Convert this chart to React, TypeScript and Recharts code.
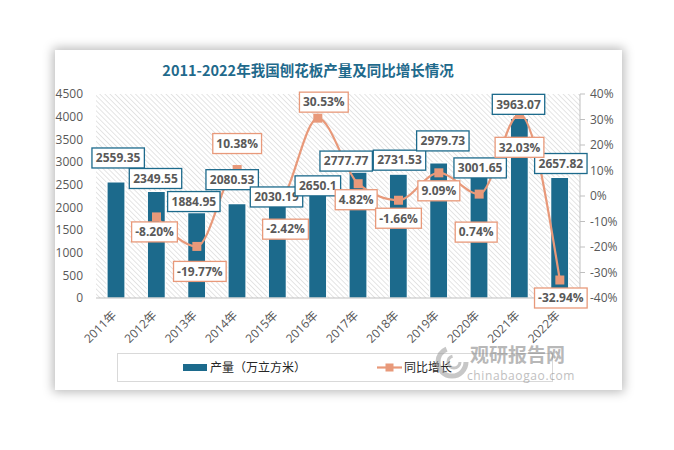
import React from 'react';
import { ComposedChart, Bar, Line, XAxis, YAxis, CartesianGrid, LabelList } from 'recharts';

const categories = ['2011年', '2012年', '2013年', '2014年', '2015年', '2016年', '2017年', '2018年', '2019年', '2020年', '2021年', '2022年'];
const output = [2559.35, 2349.55, 1884.95, 2080.53, 2030.19, 2650.1, 2777.77, 2731.53, 2979.73, 3001.65, 3963.07, 2657.82];
const growth: (number | null)[] = [null, -8.2, -19.77, 10.38, -2.42, 30.53, 4.82, -1.66, 9.09, 0.74, 32.03, -32.94];
const leftTicks = [0, 500, 1000, 1500, 2000, 2500, 3000, 3500, 4000, 4500];
const rightTicks = [-40, -30, -20, -10, 0, 10, 20, 30, 40];

// label nudges (dx, dy) relative to the mark they describe
const barLabelNudge = [[2, -24], [-1, -13], [-3, -11], [-5, -24], [-1, -9], [0, 8], [-12, -11], [1, -14], [4, -22], [1, 6], [-1, -14], [1, -14]];
const lineLabelNudge = [[0, 0], [-2, 15], [3, 25], [0, -26], [8, 27], [6, -16], [-2, 16], [0, 18], [0, 18], [-3, 38], [0, 33], [1, 18]];

const data = categories.map((c, i) => ({ name: c, output: output[i], growth: growth[i] }));

const BLUE = '#1C6A8C';
const ORANGE = '#E8997A';
const TXT = '#595959';
const FONT = '"Open Sans", "Noto Sans CJK SC", sans-serif';

function textW(s: string, fs: number) {
  let w = 0;
  for (const c of s) {
    if (c >= '0' && c <= '9') w += 0.572;
    else if (c === '.') w += 0.27;
    else if (c === '%') w += 0.84;
    else if (c === '-') w += 0.32;
    else w += 0.6;
  }
  return w * fs;
}

function makeLabel(kind: 'bar' | 'line') {
  return (props: any) => {
    const vb = props.viewBox || {};
    const x = props.x ?? vb.x;
    const y = props.y ?? vb.y;
    const idx = props.index;
    const v = props.value;
    if (v === null || v === undefined || x === undefined || y === undefined) return null;
    const s = kind === 'bar' ? String(v) : `${Number(v).toFixed(2)}%`;
    const nudge = (kind === 'bar' ? barLabelNudge : lineLabelNudge)[idx] || [0, 0];
    const cx = x + nudge[0];
    const cy = y + nudge[1];
    const w = textW(s, 12) + 8;
    const h = 20;
    return (
      <g>
        <rect x={cx - w / 2} y={cy - h / 2} width={w} height={h} fill="#fff" stroke={kind === 'bar' ? BLUE : ORANGE} strokeWidth={1.3} />
        <text x={cx} y={cy + 4.3} textAnchor="middle" fontSize={12} fontWeight="bold" fill={TXT} fontFamily={FONT}>{s}</text>
      </g>
    );
  };
}

const SquareDot = (props: any) => {
  const { cx, cy, value } = props;
  if (value === null || value === undefined || cx === undefined || cy === undefined) return <g />;
  return <rect x={cx - 4.5} y={cy - 4.5} width={9} height={9} fill={ORANGE} />;
};

const XTick = (props: any) => {
  const { x, y, payload } = props;
  return (
    <g transform={`translate(${x - 2},${y + 7}) rotate(-45)`}>
      <text x={0} y={0} dy="0.35em" textAnchor="end" fontSize={12} fill={TXT} fontFamily={FONT}>{payload.value}</text>
    </g>
  );
};

export default function App() {
  return (
    <div style={{ position: 'absolute', left: 0, top: 0, width: 674, height: 450, background: '#fff', overflow: 'hidden' }}>
      <svg width={0} height={0} style={{ position: 'absolute' }}>
        <defs>
          <pattern id="hatch" patternUnits="userSpaceOnUse" width={3.6} height={3.6} patternTransform="rotate(-45)">
            <line x1={0} y1={0} x2={0} y2={3.6} stroke="#CFCFCF" strokeWidth={1.1} />
          </pattern>
        </defs>
      </svg>
      <div style={{ position: 'absolute', left: 55, top: 50, width: 567, height: 340, background: '#fff', boxShadow: '0 0 10px 2px rgba(0,0,0,0.28)' }} />
      <div style={{ position: 'absolute', left: 0, top: 0 }}>
        <ComposedChart width={674} height={450} data={data} margin={{ top: 94, right: 44, bottom: 102, left: 56 }}>
          <CartesianGrid horizontal={false} vertical={false} fill="url(#hatch)" stroke="none" />
          <XAxis dataKey="name" xAxisId={0} tick={<XTick />} tickLine={false} axisLine={{ stroke: '#BFBFBF' }} height={50} interval={0} />
          <YAxis yAxisId="left" orientation="left" domain={[0, 4500]} ticks={leftTicks} width={40} axisLine={false} tickLine={false} tickMargin={7} tick={{ fontSize: 12, fill: TXT, fontFamily: FONT }} interval={0} />
          <YAxis yAxisId="right" orientation="right" domain={[-40, 40]} ticks={rightTicks} width={50} axisLine={{ stroke: '#BFBFBF' }} tickLine={{ stroke: '#BFBFBF' }} tickSize={5} tickMargin={5} tickFormatter={(v: number) => `${v}%`} tick={{ fontSize: 12, fill: TXT, fontFamily: FONT, textAnchor: 'start' }} interval={0} />
          <Bar yAxisId="left" dataKey="output" fill={BLUE} barSize={18} stroke="#fff" strokeWidth={1.2} isAnimationActive={false} />
          <Line yAxisId="right" dataKey="growth" type="monotone" stroke={ORANGE} strokeWidth={2.2} dot={<SquareDot />} activeDot={false} connectNulls={false} isAnimationActive={false} />
          <Line yAxisId="left" dataKey="output" stroke="none" dot={false} activeDot={false} isAnimationActive={false}>
            <LabelList dataKey="output" content={makeLabel('bar')} />
          </Line>
          <Line yAxisId="right" dataKey="growth" stroke="none" dot={false} activeDot={false} isAnimationActive={false}>
            <LabelList dataKey="growth" content={makeLabel('line')} />
          </Line>
        </ComposedChart>
      </div>
      <svg width={674} height={450} style={{ position: 'absolute', left: 0, top: 0, pointerEvents: 'none' }}>
        <text x={308} y={76} textAnchor="middle" fontSize={14.5} fontWeight="bold" fill="#1F6A8C" fontFamily='"Noto Sans CJK SC", sans-serif'>2011-2022年我国刨花板产量及同比增长情况</text>
        <rect x={117.5} y={353.5} width={435} height={28} fill="#fff" stroke="#D9D9D9" strokeWidth={1} />
        <rect x={183} y={364} width={24} height={7} fill={BLUE} />
        <text x={210} y={372} fontSize={12} fill="#262626" fontFamily='"Noto Sans CJK SC", sans-serif'>产量（万立方米）</text>
        <line x1={377} y1={367.5} x2={402} y2={367.5} stroke={ORANGE} strokeWidth={2.2} />
        <rect x={385.5} y={363.5} width={8} height={8} fill={ORANGE} />
        <text x={404} y={372} fontSize={12} fill="#262626" fontFamily='"Noto Sans CJK SC", sans-serif'>同比增长</text>
        <g opacity={0.55}>
          <circle cx={452} cy={362} r={14} fill="none" stroke="#9A9A9A" strokeWidth={5} strokeDasharray="60 28" />
          <circle cx={454} cy={362} r={6} fill="none" stroke="#9A9A9A" strokeWidth={3} strokeDasharray="26 12" />
          <text x={470} y={362} fontSize={19} fontWeight="bold" fill="#7F7F7F" fontFamily='"Noto Sans CJK SC", sans-serif'>观研报告网</text>
          <text x={467} y={380} fontSize={12} fill="#8C8C8C" fontFamily='"Open Sans", sans-serif' letterSpacing={0.6}>chinabaogao.com</text>
        </g>
      </svg>
    </div>
  );
}
